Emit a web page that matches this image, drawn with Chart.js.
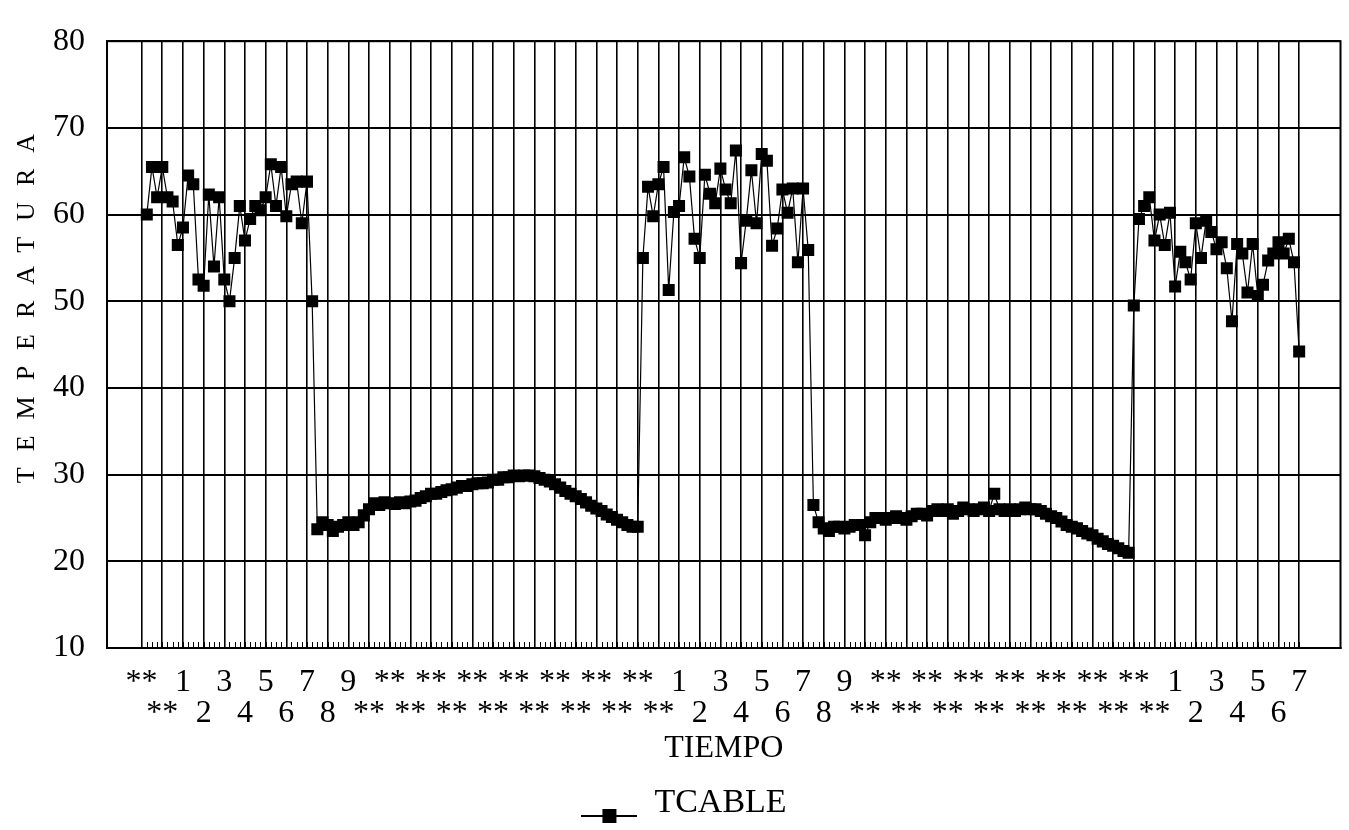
<!DOCTYPE html>
<html><head><meta charset="utf-8">
<script src="https://cdn.jsdelivr.net/npm/chart.js@4/dist/chart.umd.min.js"></script>
<style>html,body{margin:0;padding:0;background:#fff;}canvas{display:block;}</style>
</head><body>
<canvas id="c" width="1349" height="830"></canvas>
<script>
// Hour tick labels (Lotus shows "**" when a two-digit label does not fit)
const hourLabels = ['**','**','1','2','3','4','5','6','7','8','9',
  '**','**','**','**','**','**','**','**','**','**','**','**','**','**','**',
  '1','2','3','4','5','6','7','8','9',
  '**','**','**','**','**','**','**','**','**','**','**','**','**','**','**',
  '1','2','3','4','5','6','7'];
const pointsPerHour = 4;
const seriesName = 'TCABLE';
const yTicks = [10, 20, 30, 40, 50, 60, 70, 80];

// TCABLE readings, one every 1/4 hour
const lead = [null];
const day1 = [60,65.5,62,65.5,62,61.5,56.5,58.5,64.5,63.5,52.5,51.8,62.3,54,62,52.5,50,55,61,57,59.5,61,60.5,62,65.8,61,65.5,59.8,63.5,63.8,59,63.8,50];
const night1 = [23.7,24.5,24.2,23.5,24,24.2,24.5,24.2,24.5,25.3,26,26.7,26.5,26.8,26.7,26.6,26.8,26.7,26.9,27,27.3,27.5,27.8,27.8,28,28.2,28.3,28.5,28.7,28.7,28.9,29,29,29.1,29.4,29.4,29.7,29.7,29.9,29.8,29.9,29.9,29.8,29.6,29.4,29.2,28.9,28.5,28.1,27.8,27.5,27.2,26.8,26.4,26.1,25.8,25.4,25.1,24.8,24.5,24.2,24,24];
const day2 = [55,63.2,59.8,63.5,65.5,51.3,60.3,61,66.6,64.4,57.2,55,64.6,62.4,61.3,65.3,62.9,61.3,67.4,54.4,59.3,65.1,59,67,66.2,56.4,58.4,62.9,60.2,63,54.5,63,55.9];
const night2 = [26.5,24.5,23.8,23.5,24,24,23.8,24,24.2,24.2,23,24.5,25,25,24.8,25,25.2,25,24.8,25.2,25.5,25.5,25.3,25.8,26,25.8,26,25.5,25.8,26.2,26,25.8,26,26.2,25.8,27.8,26,25.8,26,25.8,26,26.2,26,26,25.8,25.5,25.2,25,24.6,24.2,24,23.8,23.5,23.2,23,22.6,22.3,22,21.8,21.5,21.2,21];
const day3 = [49.5,59.5,61,62,57,60,56.5,60.2,51.7,55.7,54.5,52.5,59,55,59.3,58,56,56.8,53.8,47.7,56.6,55.5,51,56.6,50.6,51.9,54.7,55.5,56.8,55.5,57.2,54.5,44.2];

const tcable = [].concat(lead, day1, night1, day2, night2, day3);
const slots = tcable.map((_, k) => k);

const FONT = "'Liberation Serif', 'Times New Roman', serif";

function legendSymbol() {
  const c = document.createElement('canvas');
  c.width = 56; c.height = 40;
  const g = c.getContext('2d');
  g.fillStyle = '#000';
  g.fillRect(0, 32, 56, 2);
  g.fillRect(21, 26, 14, 14);
  return c;
}

const innerTicks = {
  id: 'innerTicks',
  beforeDatasetsDraw(chart) {
    const {ctx, chartArea, scales: {x}} = chart;
    ctx.save();
    ctx.strokeStyle = '#000';
    ctx.lineWidth = 1;
    ctx.beginPath();
    tcable.forEach((v, k) => {
      if (v == null) return;
      const px = Math.round(x.getPixelForValue(k)) + 0.5;
      ctx.moveTo(px, chartArea.bottom);
      ctx.lineTo(px, chartArea.bottom - 6);
    });
    ctx.stroke();
    ctx.restore();
  }
};

const frame = {
  id: 'frame',
  afterDraw(chart) {
    const {ctx, chartArea: a} = chart;
    ctx.save();
    ctx.strokeStyle = '#000';
    ctx.lineWidth = 2;
    ctx.strokeRect(a.left, a.top, a.right - a.left, a.bottom - a.top);
    ctx.restore();
  }
};

const tweaks = {
  id: 'tweaks',
  afterLayout(chart) {
    const y = chart.scales.y;
    if (y && !y._tw) {
      const orig = y.drawTitle;
      y.drawTitle = function () {
        const ctx = this.ctx;
        ctx.save();
        ctx.letterSpacing = '16px';
        ctx.translate(0, -44);
        orig.call(this);
        ctx.restore();
      };
      y._tw = true;
    }
    if (chart.legend) { chart.legend.left += 12; chart.legend.right += 12; }
  }
};

new Chart(document.getElementById('c'), {
  type: 'line',
  data: {
    labels: slots,
    datasets: [{
      label: seriesName,
      data: tcable,
      borderColor: '#000',
      borderWidth: 1.2,
      backgroundColor: '#000',
      pointStyle: 'rect',
      pointRadius: 8.5,
      pointBorderWidth: 0,
      pointBackgroundColor: '#000',
      tension: 0,
      spanGaps: false
    }]
  },
  options: {
    responsive: false,
    devicePixelRatio: 1,
    animation: false,
    layout: {padding: {left: 0, right: 5, top: 33, bottom: 0}},
    scales: {
      x: {
        type: 'linear',
        min: -6.7,
        max: 232,
        afterBuildTicks: (s) => { s.ticks = hourLabels.map((_, i) => ({value: i * pointsPerHour})); },
        afterFit: (s) => { s.height = 118; },
        ticks: {
          autoSkip: false,
          maxRotation: 0,
          minRotation: 0,
          padding: 19,
          color: '#000',
          font: {family: FONT, size: 32, lineHeight: '31px'},
          callback: (v) => {
            const i = Math.round(v / pointsPerHour);
            const t = hourLabels[i];
            return i % 2 === 0 ? [t, ''] : ['', t];
          }
        },
        grid: {color: '#000', lineWidth: 1.6, drawTicks: false},
        border: {color: '#000', width: 2},
        title: {display: true, text: 'TIEMPO', color: '#000', font: {family: FONT, size: 32, lineHeight: 1.1}, padding: {top: 0, bottom: 0}}
      },
      y: {
        min: 10,
        max: 80,
        afterBuildTicks: (s) => { s.ticks = yTicks.map(v => ({value: v})); },
        afterFit: (s) => { s.width = 107; },
        ticks: {color: '#000', padding: 22, font: {family: FONT, size: 32}},
        grid: {color: '#000', lineWidth: 2, drawTicks: false},
        border: {color: '#000', width: 2},
        title: {display: true, text: 'TEMPERATURA', color: '#000', font: {family: FONT, size: 26, lineHeight: 1.2}, padding: {top: 12, bottom: 0}}
      }
    },
    plugins: {
      legend: {
        display: true,
        position: 'bottom',
        labels: {
          color: '#000',
          font: {family: FONT, size: 34},
          padding: 20,
          usePointStyle: true,
          pointStyleWidth: 56,
          generateLabels: (chart) => [{
            text: seriesName,
            pointStyle: legendSymbol(),
            fillStyle: '#000',
            strokeStyle: '#000',
            lineWidth: 0,
            hidden: false,
            datasetIndex: 0
          }]
        }
      },
      tooltip: {enabled: false},
      title: {display: false}
    }
  },
  plugins: [innerTicks, frame, tweaks]
});
</script>
</body></html>
